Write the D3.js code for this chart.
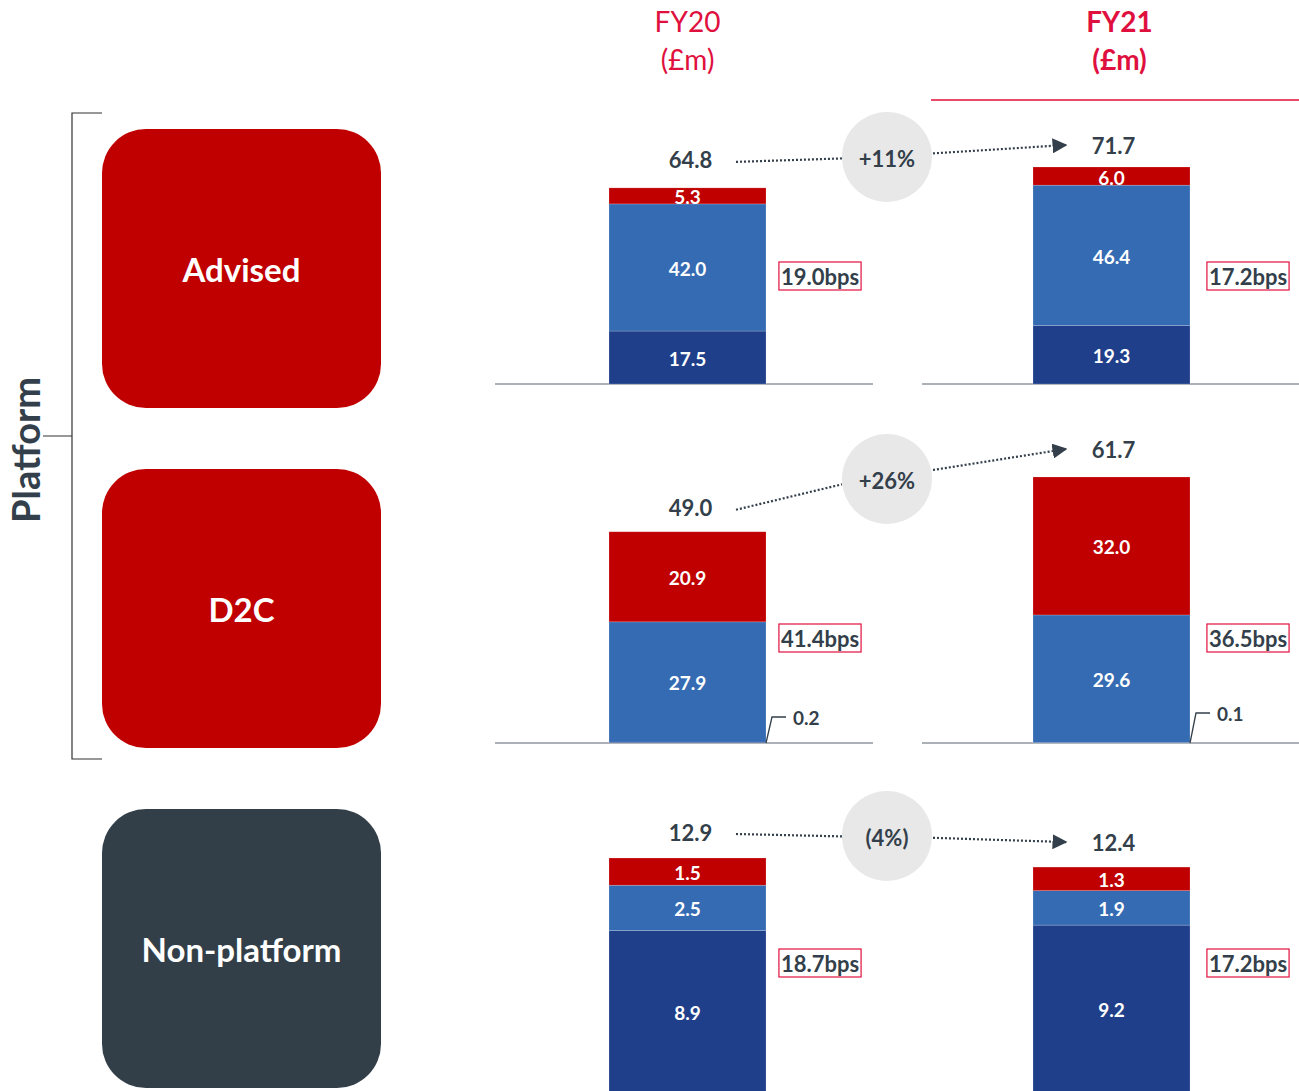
<!DOCTYPE html>
<html><head><meta charset="utf-8">
<script src="https://cdn.jsdelivr.net/npm/d3@7"></script>
<style>
html,body{margin:0;padding:0;background:#fff;}
svg{display:block;font-family:"Source Sans Pro","Lato","Noto Sans",sans-serif;}
</style></head>
<body><svg id="c" width="1299" height="1091"></svg>
<script>
// ---- data ----
const years = ["FY20", "FY21"];
const segments = ["Advised", "D2C", "Non-platform"];
const darkValues = [[17.5, 19.3], [0.2, 0.1], [8.9, 9.2]];
const midValues = [[42.0, 46.4], [27.9, 29.6], [2.5, 1.9]];
const topValues = [[5.3, 6.0], [20.9, 32.0], [1.5, 1.3]];
const totals = [[64.8, 71.7], [49.0, 61.7], [12.9, 12.4]];
const growth = ["+11%", "+26%", "(4%)"];
const bpsLabels = [["19.0bps", "17.2bps"], ["41.4bps", "36.5bps"], ["18.7bps", "17.2bps"]];
const headerUnit = "(£m)";
const groupLabel = "Platform";

// ---- layout ----
const C_RED = "#c00000", C_MID = "#356bb3", C_DARK = "#1f3f8a", C_TXT = "#333f4a", C_HEAD = "#e0103e";
const svg = d3.select("#c");
const baselines = [384, 743, 1092];
const tops = [167, 477, 858];
const boxY = [129, 469, 809];
const boxColor = [C_RED, C_RED, "#333f48"];
const circleY = [157, 479, 836];
const bpsY = [276, 638, 963];
const labelGap = [[28, 22], [24, 28], [26, 25]];
const x = d3.scaleBand().domain(years).range([609, 1190]).paddingInner(1 - 157 / 424).paddingOuter(0);
const barCenter = y => x(y) + x.bandwidth() / 2;
const bpsX = [820, 1248];

// headers
years.forEach((yr, i) => {
  const hx = barCenter(yr) + (i ? 8 : 0);
  const g = svg.append("text").attr("fill", C_HEAD)
    .attr("font-size", 28).attr("font-weight", i ? 700 : 400).attr("text-anchor", "middle");
  g.append("tspan").attr("x", hx).attr("y", 32).text(yr);
  g.append("tspan").attr("x", hx).attr("y", 70).text(headerUnit);
});
svg.append("line").attr("x1", 931).attr("x2", 1299).attr("y1", 100).attr("y2", 100)
  .attr("stroke", "#e84a6a").attr("stroke-width", 2);

// Platform bracket
svg.append("path").attr("d", "M102,113 H72 V759 H102 M72,436 H43").attr("fill", "none")
  .attr("stroke", "#333").attr("stroke-width", 1.2);
svg.append("text").attr("transform", "translate(40,450) rotate(-90)").attr("text-anchor", "middle")
  .attr("font-size", 38).attr("font-weight", 700).attr("fill", C_TXT).text(groupLabel);

// defs arrow
svg.append("defs").append("marker").attr("id", "arr").attr("viewBox", "0 0 10 10")
  .attr("refX", 9).attr("refY", 5).attr("markerWidth", 15).attr("markerHeight", 15)
  .attr("markerUnits", "userSpaceOnUse").attr("orient", "auto")
  .append("path").attr("d", "M0,0 L10,5 L0,10 Z").attr("fill", C_TXT);

segments.forEach((seg, p) => {
  // category box
  svg.append("rect").attr("x", 102).attr("y", boxY[p]).attr("width", 279).attr("height", 279)
    .attr("rx", 44).attr("fill", boxColor[p]);
  svg.append("text").attr("x", 241.5).attr("y", boxY[p] + 140).attr("dominant-baseline", "central")
    .attr("text-anchor", "middle").attr("fill", "#fff").attr("font-size", 33).attr("font-weight", 700).text(seg);

  const y = d3.scaleLinear().domain([0, d3.max(totals[p])]).range([baselines[p], tops[p]]);
  // baselines
  [[495, 873], [922, 1299]].forEach(([a, b]) => svg.append("line").attr("x1", a).attr("x2", b)
    .attr("y1", baselines[p]).attr("y2", baselines[p]).attr("stroke", "#5a6470").attr("stroke-width", 1.2));

  years.forEach((yr, i) => {
    const stack = [
      { v: darkValues[p][i], c: C_DARK },
      { v: midValues[p][i], c: C_MID },
      { v: topValues[p][i], c: C_RED }
    ];
    let acc = 0;
    stack.forEach(s => { s.y0 = acc; acc += s.v; s.y1 = acc; });
    const g = svg.append("g");
    g.selectAll("rect").data(stack).join("rect")
      .attr("x", x(yr)).attr("width", x.bandwidth())
      .attr("y", d => y(d.y1)).attr("height", d => y(d.y0) - y(d.y1))
      .attr("fill", d => d.c).attr("stroke", "rgba(255,255,255,0.3)").attr("stroke-width", 0.6);
    g.selectAll("text").data(stack.filter(d => y(d.y0) - y(d.y1) > 8)).join("text")
      .attr("x", barCenter(yr)).attr("y", d => (y(d.y0) + y(d.y1)) / 2 + 1)
      .attr("dominant-baseline", "central").attr("text-anchor", "middle")
      .attr("fill", "#fff").attr("font-size", 19).attr("font-weight", 700)
      .text(d => d.v.toFixed(1));
    // tiny segment callouts
    stack.filter(d => y(d.y0) - y(d.y1) <= 8).forEach(d => {
      const bx = x(yr) + x.bandwidth();
      const ly = baselines[p] - (i ? 30 : 26);
      svg.append("path").attr("d", `M${bx},${baselines[p]} L${bx + 6},${ly} H${bx + 20}`)
        .attr("fill", "none").attr("stroke", C_TXT).attr("stroke-width", 1.3);
      svg.append("text").attr("x", bx + 27).attr("y", ly).attr("dominant-baseline", "central")
        .attr("fill", C_TXT).attr("font-size", 19).attr("font-weight", 700).text(d.v.toFixed(1));
    });
    // total label
    const ty = y(totals[p][i]) - labelGap[p][i];
    svg.append("text").attr("x", barCenter(yr) + (i ? 2 : 3)).attr("y", ty).attr("dominant-baseline", "central")
      .attr("text-anchor", "middle").attr("fill", C_TXT).attr("font-size", 22).attr("font-weight", 700)
      .text(totals[p][i].toFixed(1));
    // bps box
    const bt = svg.append("text").attr("x", bpsX[i]).attr("y", bpsY[p]).attr("dominant-baseline", "central")
      .attr("text-anchor", "middle").attr("fill", C_TXT).attr("font-size", 22).attr("font-weight", 700)
      .text(bpsLabels[p][i]);
    const bb = bt.node().getBBox();
    svg.insert("rect", "text").attr("x", bb.x - 2).attr("y", bpsY[p] - 14).attr("width", bb.width + 4)
      .attr("height", 28).attr("fill", "#fff").attr("stroke", C_HEAD).attr("stroke-width", 1.2);
  });

  // growth circle + arrows
  const cx = 887, cy = circleY[p], r = 45;
  const y0 = y(totals[p][0]) - labelGap[p][0], y1 = y(totals[p][1]) - labelGap[p][1];
  svg.append("line").attr("x1", 736).attr("y1", y0 + 2).attr("x2", cx - r).attr("y2", (y0 + 2 + cy) / 2 + (cy - y0) * 0.35)
    .attr("stroke", C_TXT).attr("stroke-width", 2.2).attr("stroke-dasharray", "2,2");
  svg.append("line").attr("x1", cx + r + 1).attr("y1", cy - (cy - y1) * 0.3).attr("x2", 1066).attr("y2", y1)
    .attr("stroke", C_TXT).attr("stroke-width", 2.2).attr("stroke-dasharray", "2,2").attr("marker-end", "url(#arr)");
  svg.append("circle").attr("cx", cx).attr("cy", cy).attr("r", r).attr("fill", "#e8e8e8");
  svg.append("text").attr("x", cx).attr("y", cy + 1).attr("dominant-baseline", "central").attr("text-anchor", "middle")
    .attr("fill", C_TXT).attr("font-size", 22).attr("font-weight", 700).text(growth[p]);
});
</script></body></html>
